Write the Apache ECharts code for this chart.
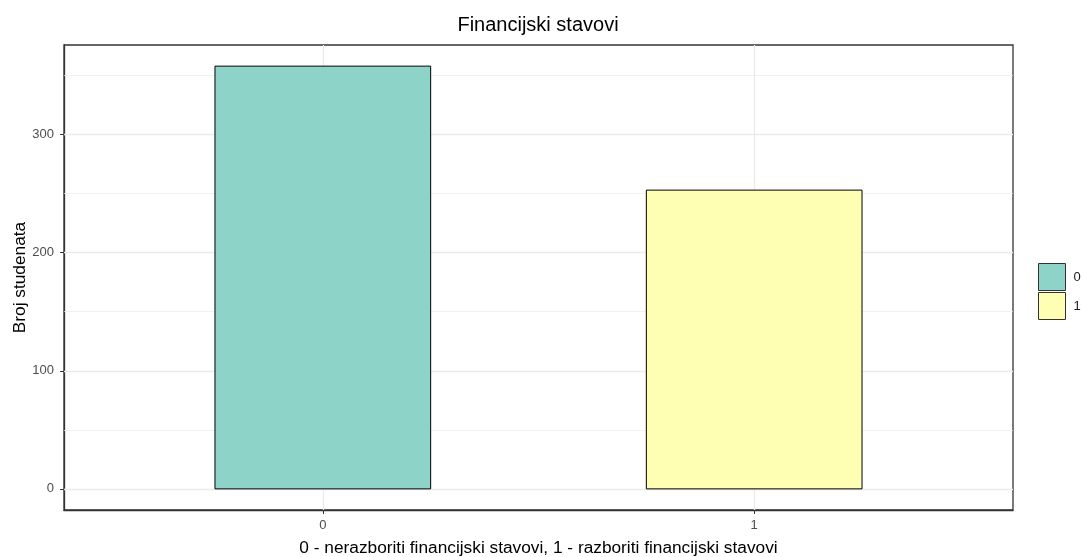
<!DOCTYPE html>
<html>
<head>
<meta charset="utf-8">
<script src="https://cdn.jsdelivr.net/npm/echarts@6/dist/echarts.min.js"></script>
<style>
  html, body { margin: 0; padding: 0; background: #fff; }
  #chart { width: 1082px; height: 557px; }
</style>
</head>
<body>
<div id="chart"></div>
<script>
// data
const categories = ['0', '1']
const counts = [358, 253]
const yTicks = [0, 100, 200, 300]
const yMinorTicks = [50, 150, 250, 350]
const xTicks = [1, 2] // discrete positions of the categories

const fills = ['#8DD3C7', '#FFFFB3']
const font = "'Liberation Sans', Arial, sans-serif"

// ggplot-like expansion of the y range
const yMax = Math.max(...counts)
const yMin = -0.05 * yMax
const yTop = yMax * 1.05

const gridLines = [
  ...yTicks.map(v => ({ yAxis: v, lineStyle: { width: 1.3 } })),
  ...yMinorTicks.map(v => ({ yAxis: v, lineStyle: { width: 0.7 } })),
  ...xTicks.map(v => ({ xAxis: v, lineStyle: { width: 1.3 } }))
]

function renderBar(params, api) {
  const x = api.value(0)
  const y = api.value(1)
  const p0 = api.coord([x - 0.25, y])
  const p1 = api.coord([x + 0.25, 0])
  return {
    type: 'rect',
    shape: { x: p0[0], y: p0[1], width: p1[0] - p0[0], height: p1[1] - p0[1] },
    style: api.style()
  }
}

const series = categories.map((c, i) => ({
  name: c,
  type: 'custom',
  z: 3,
  renderItem: renderBar,
  itemStyle: { color: fills[i], borderColor: '#000', borderWidth: 1 },
  data: [[xTicks[i], counts[i]]],
  markLine: i === 0 ? {
    silent: true,
    z: 1,
    symbol: 'none',
    animation: false,
    label: { show: false },
    lineStyle: { color: '#EBEBEB', type: 'solid' },
    data: gridLines
  } : undefined
}))

const chart = echarts.init(document.getElementById('chart'))
chart.setOption({
  animation: false,
  textStyle: { fontFamily: font },
  title: {
    text: 'Financijski stavovi',
    left: 538,
    top: 15,
    padding: 0,
    textAlign: 'center',
    textStyle: { fontFamily: font, fontSize: 20, fontWeight: 'normal', color: '#000' }
  },
  legend: {
    orient: 'vertical',
    left: 1038,
    top: 263,
    padding: 0,
    itemGap: 1,
    itemWidth: 27,
    itemHeight: 27,
    icon: 'rect',
    itemStyle: { borderColor: '#333', borderWidth: 1 },
    textStyle: { fontFamily: font, fontSize: 13, color: '#1A1A1A', padding: [0, 0, 0, 3] },
    data: categories
  },
  grid: {
    left: 64,
    right: 69,
    top: 45,
    bottom: 47,
    show: true,
    borderColor: '#333',
    borderWidth: 1.3,
    containLabel: false,
    outerBoundsMode: 'none'
  },
  xAxis: {
    type: 'value',
    min: 0.4,
    max: 2.6,
    name: '0 - nerazboriti financijski stavovi, 1 - razboriti financijski stavovi',
    nameLocation: 'middle',
    nameGap: 30,
    nameTextStyle: { fontFamily: font, fontSize: 17.3, color: '#000' },
    axisLine: { show: true, onZero: false, lineStyle: { color: '#333', width: 1.3 } },
    axisTick: { show: true, length: 4, customValues: xTicks, lineStyle: { color: '#333' } },
    axisLabel: {
      customValues: xTicks,
      margin: 9,
      fontSize: 13,
      color: '#4D4D4D',
      formatter: v => categories[Math.round(v) - 1]
    },
    splitLine: { show: false }
  },
  yAxis: {
    type: 'value',
    min: yMin,
    max: yTop,
    name: 'Broj studenata',
    nameLocation: 'middle',
    nameGap: 35,
    nameMoveOverlap: false,
    nameTextStyle: { fontFamily: font, fontSize: 17.3, color: '#000' },
    axisLine: { show: true, onZero: false, lineStyle: { color: '#333', width: 1.3 } },
    axisTick: { show: true, length: 4, customValues: yTicks, lineStyle: { color: '#333' } },
    axisLabel: { customValues: yTicks, margin: 10, fontSize: 13, color: '#4D4D4D' },
    splitLine: { show: false }
  },
  series: series
})
</script>
</body>
</html>
